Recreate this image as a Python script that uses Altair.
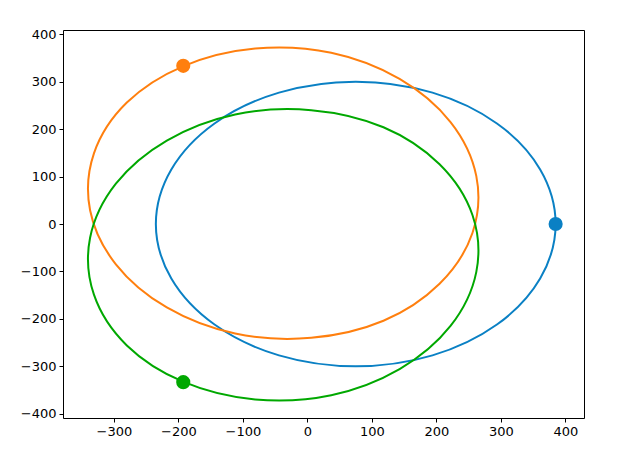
import altair as alt
import pandas as pd

# Orbit curves
blue_x = [385, 361, 294, 194, 75, -44, -144, -211, -235, -211, -144, -44, 75, 194, 294, 361]
blue_y = [0, 115, 212, 277, 300, 277, 212, 115, 0, -115, -212, -277, -300, -277, -212, -115]

orange_x = [-192, -280, -331, -337, -297, -218, -112, 6, 118, 205, 256, 262, 222, 143, 37, -81]
orange_y = [333, 256, 149, 29, -85, -176, -231, -240, -204, -126, -19, 101, 215, 306, 361, 370]

green_x = [-192, -280, -331, -337, -297, -218, -112, 6, 118, 205, 256, 262, 222, 143, 37, -81]
green_y = [-333, -256, -149, -29, 85, 176, 231, 240, 204, 126, 19, -101, -215, -306, -361, -370]

series = ["blue", "orange", "green"]
colors = ["#0a80c4", "#ff7f0e", "#00a800"]

# Current positions (markers)
marker_x = [385, -192.5, -192.5]
marker_y = [0, 333.4, -333.4]

x_ticks = [-300, -200, -100, 0, 100, 200, 300, 400]
y_ticks = [-400, -300, -200, -100, 0, 100, 200, 300, 400]

rows = []
for name, xs, ys in [("blue", blue_x, blue_y), ("orange", orange_x, orange_y), ("green", green_x, green_y)]:
    for i, (x, y) in enumerate(zip(xs, ys)):
        rows.append({"s": name, "i": i, "x": x, "y": y})
curves = pd.DataFrame(rows)
markers = pd.DataFrame({"s": series, "x": marker_x, "y": marker_y})

xs = alt.Scale(domain=[-379, 429], nice=False, zero=False)
ys = alt.Scale(domain=[-409, 409], nice=False, zero=False)
cs = alt.Scale(domain=series, range=colors)

axis_common = dict(
    grid=False, domainColor="black", tickColor="black", tickSize=4,
    labelFont="DejaVu Sans", labelFontSize=13, labelColor="black", labelPadding=3,
    title=None,
)
frame_axis = dict(grid=False, domainColor="black", ticks=False, labels=False, title=None)

lines = alt.Chart(curves).mark_line(interpolate="cardinal-closed", strokeWidth=2).encode(
    x=alt.X("x:Q", scale=xs, axis=alt.Axis(values=x_ticks, orient="bottom", **axis_common)),
    y=alt.Y("y:Q", scale=ys, axis=alt.Axis(values=y_ticks, orient="left", **axis_common)),
    color=alt.Color("s:N", scale=cs, legend=None),
    detail="s:N",
    order="i:Q",
)

points = alt.Chart(markers).mark_circle(size=200, opacity=1).encode(
    x=alt.X("x:Q", scale=xs, axis=alt.Axis(orient="top", **frame_axis)),
    y=alt.Y("y:Q", scale=ys, axis=alt.Axis(orient="right", **frame_axis)),
    color=alt.Color("s:N", scale=cs, legend=None),
)

chart = alt.layer(lines, points).resolve_axis(x="independent", y="independent").properties(
    width=521, height=388,
    autosize=alt.AutoSizeParams(type="none"),
    padding={"left": 55, "top": 22, "right": 30, "bottom": 40},
).configure_view(stroke=None).configure(background="white")

chart.save("out.html", embed_options={"renderer": "svg", "actions": False})
